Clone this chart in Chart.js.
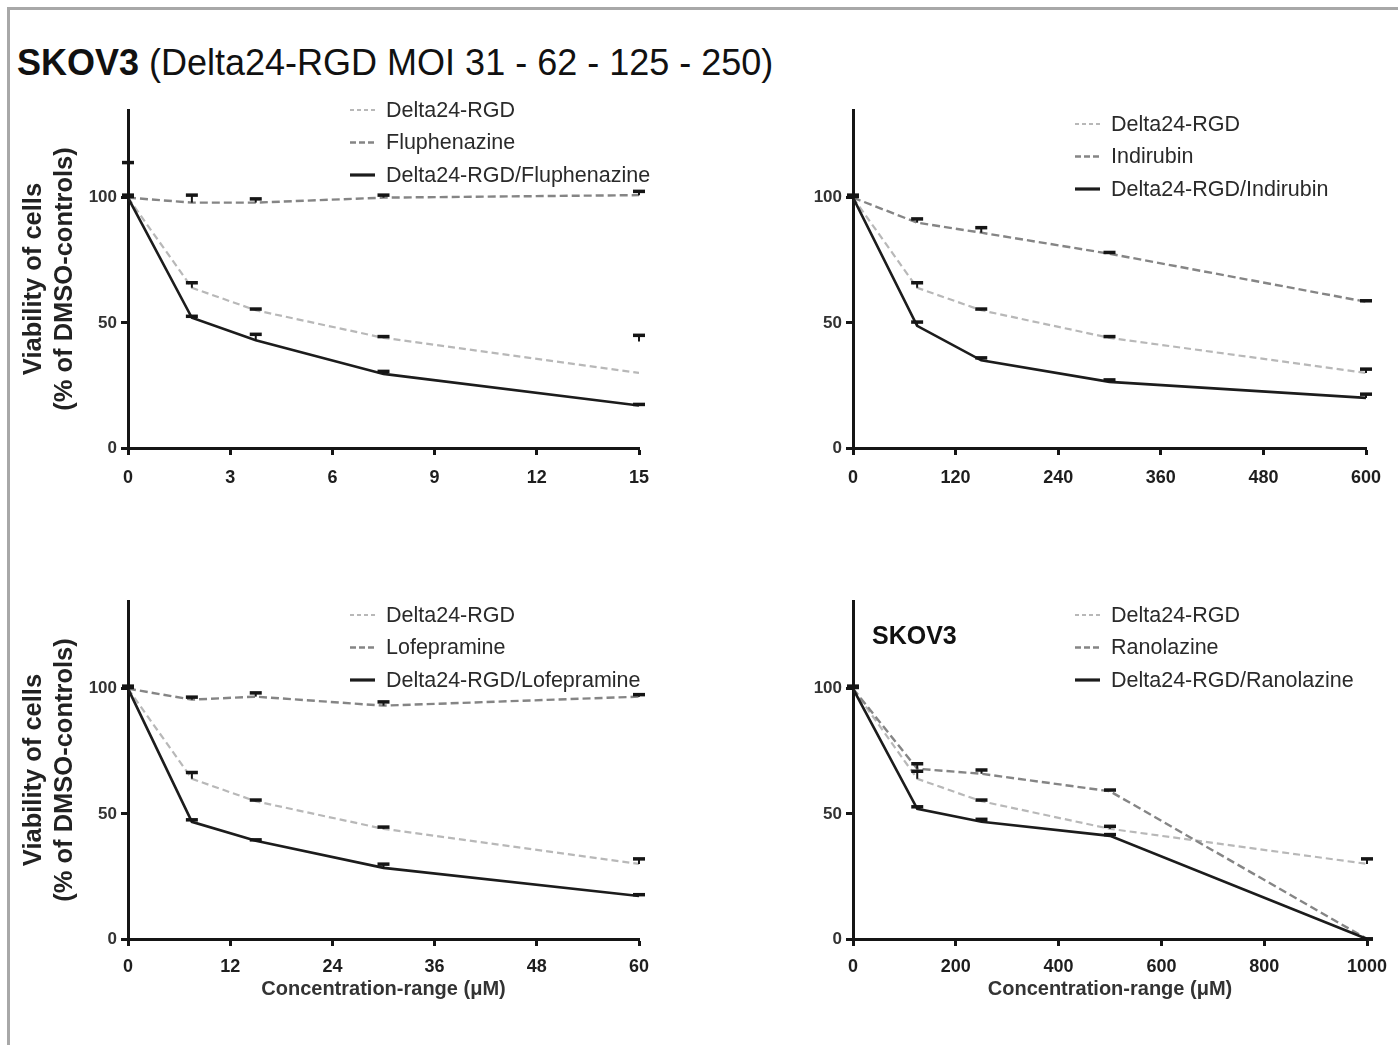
<!DOCTYPE html>
<html><head><meta charset="utf-8">
<script src="https://cdn.jsdelivr.net/npm/chart.js@4.4.1/dist/chart.umd.min.js"></script>
<style>
html,body{margin:0;padding:0;background:#fff;}
body{width:1398px;height:1045px;position:relative;overflow:hidden;font-family:"Liberation Sans",Arial,Helvetica,sans-serif;}
#frame{position:absolute;left:7px;top:7px;width:1400px;height:1050px;border-top:3px solid #a8a8a8;border-left:3px solid #a8a8a8;}
#title{position:absolute;left:17px;top:43px;font-size:36px;color:#111;white-space:nowrap;line-height:40px;}
.box{position:absolute;}
#lbl{position:absolute;left:872px;top:621px;font-weight:bold;font-size:25px;color:#111;line-height:28px;}
</style></head><body>
<div id="frame"></div>
<div id="title"><b>SKOV3</b> (Delta24-RGD MOI 31 - 62 - 125 - 250)</div>
<div class="box" style="left:0;top:90px;"><canvas id="c1" width="700" height="440"></canvas></div>
<div class="box" style="left:720px;top:90px;"><canvas id="c2" width="678" height="440"></canvas></div>
<div class="box" style="left:0;top:581px;"><canvas id="c3" width="700" height="440"></canvas></div>
<div class="box" style="left:720px;top:581px;"><canvas id="c4" width="678" height="440"></canvas></div>
<div id="lbl">SKOV3</div>
<script>
// ---------- DATA ----------
const yTicks = [0, 50, 100];
const yMax = 135;
const yTitle = ['Viability of cells', '(% of DMSO-controls)'];
const xTitle = 'Concentration-range (\u03bcM)';

// Panel 1: Fluphenazine
const fluConc = [0, 1.875, 3.75, 7.5, 15];
const fluTicks = [0, 3, 6, 9, 12, 15];
const fluDelta = [100, 64, 55, 44, 30];
const fluDeltaErr = [0.5, 2, 0.5, 0.5, null];
const fluDrug = [100, 98, 98, 100, 101];
const fluDrugErr = [1, 3, 1.5, 1, 1.5];
const fluCombo = [100, 52, 43, 29.6, 17];
const fluComboErr = [0.5, 0.6, 2.4, 1, 0.4];
const fluStrayX = [0, 15];
const fluStrayY = [113, 44];

// Panel 2: Indirubin
const indConc = [0, 75, 150, 300, 600];
const indTicks = [0, 120, 240, 360, 480, 600];
const indDelta = [100, 64, 55, 44, 30];
const indDeltaErr = [0.5, 2, 0.5, 0.5, 1.5];
const indDrug = [100, 90, 86, 77.6, 58.4];
const indDrugErr = [1, 1.5, 2, 0.5, 0.4];
const indCombo = [100, 48.8, 35, 26.4, 20];
const indComboErr = [0.5, 1.5, 1, 0.8, 1.5];

// Panel 3: Lofepramine
const lofConc = [0, 7.5, 15, 30, 60];
const lofTicks = [0, 12, 24, 36, 48, 60];
const lofDelta = [100, 64, 55, 44, 30];
const lofDeltaErr = [0.5, 2.5, 0.5, 0.7, 2];
const lofDrug = [100, 95.6, 96.8, 93.2, 96.8];
const lofDrugErr = [1, 1, 1.5, 1.5, 0.8];
const lofCombo = [100, 46.8, 39.2, 28.4, 17.2];
const lofComboErr = [0.5, 0.8, 0.4, 1.5, 0.5];

// Panel 4: Ranolazine
const ranConc = [0, 125, 250, 500, 1000];
const ranTicks = [0, 200, 400, 600, 800, 1000];
const ranDelta = [100, 64, 55, 44, 30];
const ranDeltaErr = [0.5, 3, 0.5, 1, 2];
const ranDrug = [100, 68, 66, 59, 0];
const ranDrugErr = [1, 2, 1.5, 0.5, 0];
const ranCombo = [100, 52, 46.8, 41.2, 0];
const ranComboErr = [0.5, 0.8, 1, 0.5, 0];

// ---------- STYLE / HELPERS ----------
const FAM = '"Liberation Sans", Arial, Helvetica, sans-serif';
const pts = (xs, ys) => xs.map((x, i) => ({x: x, y: ys[i]}));

const errorBars = {
  id: 'errorBars',
  afterDatasetsDraw(chart, args, opts) {
    const ctx = chart.ctx, xs = chart.scales.x, ys = chart.scales.y;
    ctx.save();
    ctx.strokeStyle = '#151515';
    const drawCap = (px, py, pt) => {
      ctx.lineWidth = 2;
      ctx.beginPath(); ctx.moveTo(px, py); ctx.lineTo(px, pt); ctx.stroke();
      ctx.lineWidth = 3.5;
      ctx.beginPath(); ctx.moveTo(px - 6, pt); ctx.lineTo(px + 6, pt); ctx.stroke();
    };
    chart.data.datasets.forEach(ds => {
      (ds.errUp || []).forEach((e, i) => {
        if (e == null) return;
        const p = ds.data[i];
        drawCap(xs.getPixelForValue(p.x), ys.getPixelForValue(p.y), ys.getPixelForValue(p.y + e));
      });
    });
    const sx = opts.strayX || [], sy = opts.strayY || [];
    sx.forEach((x, i) => {
      drawCap(xs.getPixelForValue(x), ys.getPixelForValue(sy[i] - 1.5), ys.getPixelForValue(sy[i] + 1));
    });
    ctx.restore();
  }
};

const panelLegend = {
  id: 'panelLegend',
  afterDraw(chart, args, opts) {
    const ctx = chart.ctx;
    ctx.save();
    chart.data.datasets.forEach((ds, i) => {
      const y = opts.y + i * opts.rowGap;
      ctx.beginPath();
      ctx.setLineDash(ds.legendDash || []);
      ctx.strokeStyle = ds.borderColor;
      ctx.lineWidth = ds.legendWidth || ds.borderWidth;
      ctx.moveTo(opts.x, y); ctx.lineTo(opts.x + 25, y); ctx.stroke();
      ctx.setLineDash([]);
      ctx.fillStyle = '#2a2a2a';
      ctx.font = '21.5px ' + FAM;
      ctx.textBaseline = 'middle'; ctx.textAlign = 'left';
      ctx.fillText(ds.label, opts.x + 36, y + 1);
    });
    ctx.restore();
  }
};

function makeChart(id, p) {
  const datasets = [
    {label: 'Delta24-RGD', data: pts(p.conc, p.delta), errUp: p.deltaErr,
     borderColor: '#b8b8b8', borderWidth: 2.2, borderDash: [7, 4], legendDash: [4, 3], order: 3},
    {label: p.drugName, data: pts(p.conc, p.drug), errUp: p.drugErr,
     borderColor: '#858585', borderWidth: 2.4, borderDash: [8, 4], legendDash: [6, 3], order: 2},
    {label: 'Delta24-RGD/' + p.drugName, data: pts(p.conc, p.combo), errUp: p.comboErr,
     borderColor: '#1c1c1c', borderWidth: 2.6, legendWidth: 3.2, order: 1}
  ];
  return new Chart(document.getElementById(id), {
    type: 'line',
    data: {datasets: datasets},
    plugins: [errorBars, panelLegend],
    options: {
      responsive: false, animation: false,
      events: [],
      layout: {padding: {left: 0, right: p.padRight, top: 20, bottom: 0}},
      elements: {point: {radius: 0, hoverRadius: 0}, line: {tension: 0, fill: false}},
      plugins: {
        legend: {display: false}, tooltip: {enabled: false},
        errorBars: {strayX: p.strayX, strayY: p.strayY},
        panelLegend: {x: p.legX, y: p.legY, rowGap: 32.5}
      },
      scales: {
        x: {
          type: 'linear', min: 0, max: p.ticks[p.ticks.length - 1],
          afterBuildTicks: s => { s.ticks = p.ticks.map(v => ({value: v})); },
          afterFit: s => { s.height = 82; },
          border: {display: true, color: '#151515', width: 3},
          grid: {display: true, drawOnChartArea: false, drawTicks: true, tickLength: 7, tickWidth: 3, tickColor: '#151515'},
          ticks: {color: '#1e1e1e', font: {family: FAM, size: 18, weight: 'bold'}, padding: p.xPad, maxRotation: 0, autoSkip: false,
                  callback: v => String(v)},
          title: {display: !!p.xTitle, text: p.xTitle || '', color: '#333',
                  font: {family: FAM, size: 20, weight: 'bold'}, padding: {top: 0, bottom: 20}}
        },
        y: {
          type: 'linear', min: 0, max: yMax,
          afterBuildTicks: s => { s.ticks = yTicks.map(v => ({value: v})); },
          afterFit: s => { s.width = p.yWidth; },
          border: {display: true, color: '#151515', width: 3},
          grid: {display: true, drawOnChartArea: false, drawTicks: true, tickLength: 7, tickWidth: 3, tickColor: '#151515'},
          ticks: {color: '#333', font: {family: FAM, size: 17, weight: 'bold'}, padding: 4, autoSkip: false,
                  callback: v => String(v)},
          title: {display: !!p.yTitle, text: p.yTitle || '', color: '#222',
                  font: {family: FAM, size: 25.5, weight: 'bold', lineHeight: 1.22}, padding: {top: 18, bottom: 0}}
        }
      }
    }
  });
}

makeChart('c1', {conc: fluConc, ticks: fluTicks, drugName: 'Fluphenazine',
  delta: fluDelta, deltaErr: fluDeltaErr, drug: fluDrug, drugErr: fluDrugErr, combo: fluCombo, comboErr: fluComboErr,
  strayX: fluStrayX, strayY: fluStrayY, xPad: 12,
  padRight: 61, yWidth: 128, yTitle: yTitle, xTitle: null, legX: 350, legY: 20});
makeChart('c2', {conc: indConc, ticks: indTicks, drugName: 'Indirubin',
  delta: indDelta, deltaErr: indDeltaErr, drug: indDrug, drugErr: indDrugErr, combo: indCombo, comboErr: indComboErr,
  xPad: 12, padRight: 32, yWidth: 133, yTitle: null, xTitle: null, legX: 355, legY: 34});
makeChart('c3', {conc: lofConc, ticks: lofTicks, drugName: 'Lofepramine',
  delta: lofDelta, deltaErr: lofDeltaErr, drug: lofDrug, drugErr: lofDrugErr, combo: lofCombo, comboErr: lofComboErr,
  xPad: 10, padRight: 61, yWidth: 128, yTitle: yTitle, xTitle: xTitle, legX: 350, legY: 34});
makeChart('c4', {conc: ranConc, ticks: ranTicks, drugName: 'Ranolazine',
  delta: ranDelta, deltaErr: ranDeltaErr, drug: ranDrug, drugErr: ranDrugErr, combo: ranCombo, comboErr: ranComboErr,
  xPad: 10, padRight: 31, yWidth: 133, yTitle: null, xTitle: xTitle, legX: 355, legY: 34});
</script>
</body></html>
